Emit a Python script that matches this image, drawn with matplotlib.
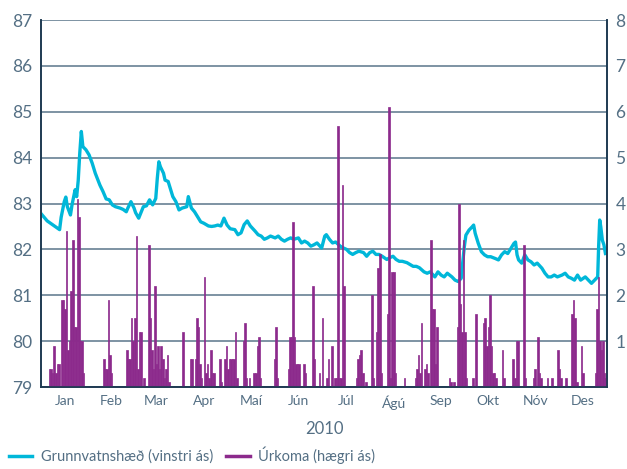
import matplotlib
matplotlib.use("Agg")
import matplotlib.pyplot as plt
from matplotlib.lines import Line2D

plt.rcParams['font.family'] = ['Lato', 'DejaVu Sans']

# Grunnvatnshæð (vinstri ás), day-of-year -> m
gw_days = [0, 4, 9, 12, 13, 15, 16, 17, 19, 20, 22, 23, 24, 25, 26, 27, 29, 31, 33, 35,
           38, 40, 42, 44, 46, 48, 51, 53, 55, 56, 58, 60, 61, 63, 66, 68, 70, 72, 74, 75,
           76, 77, 79, 80, 82, 83, 85, 87, 89, 91, 94, 95, 97, 99, 101, 103, 105, 108, 110, 112,
           114, 116, 118, 120, 122, 125, 127, 129, 131, 133, 135, 138, 140, 142, 144, 146, 148, 151, 153, 155,
           157, 159, 161, 163, 166, 168, 170, 172, 174, 176, 178, 181, 183, 184, 186, 188, 190, 193, 195, 197,
           199, 201, 203, 205, 208, 210, 212, 214, 216, 218, 220, 223, 225, 227, 229, 231, 233, 236, 238, 240,
           242, 244, 247, 249, 251, 254, 256, 258, 260, 262, 265, 267, 269, 271, 272, 273, 274, 276, 278, 279,
           280, 282, 284, 286, 288, 290, 293, 295, 297, 299, 301, 303, 305, 306, 307, 308, 310, 312, 314, 316,
           318, 320, 323, 325, 327, 329, 331, 333, 336, 338, 340, 342, 344, 346, 348, 351, 353, 355, 357, 359,
           359.6, 360.3, 361, 362, 363, 364]
gw_level = [82.78, 82.62, 82.5, 82.43, 82.7, 83.04, 83.14, 82.93, 82.75, 82.97, 83.3, 83.15, 83.5, 84.1, 84.57, 84.24, 84.17, 84.06, 83.88, 83.66,
            83.4, 83.26, 83.1, 83.08, 82.97, 82.93, 82.9, 82.87, 82.82, 82.9, 83.04, 82.9, 82.8, 82.68, 82.93, 82.95, 83.08, 82.97, 83.11, 83.55,
            83.91, 83.8, 83.66, 83.51, 83.48, 83.37, 83.15, 83.04, 82.86, 82.9, 82.93, 83.15, 82.9, 82.82, 82.71, 82.6, 82.57, 82.51, 82.5, 82.51,
            82.53, 82.51, 82.68, 82.53, 82.45, 82.43, 82.32, 82.36, 82.54, 82.62, 82.51, 82.4, 82.32, 82.29, 82.22, 82.25, 82.29, 82.25, 82.29, 82.22,
            82.18, 82.22, 82.25, 82.22, 82.25, 82.14, 82.18, 82.14, 82.07, 82.1, 82.14, 82.03, 82.29, 82.32, 82.22, 82.14, 82.16, 82.07, 82.03, 82.0,
            81.93, 81.89, 81.93, 81.96, 81.93, 81.85, 81.93, 81.96, 81.89, 81.89, 81.85, 81.78, 81.82, 81.85, 81.78, 81.74, 81.74, 81.71, 81.67, 81.63,
            81.63, 81.6, 81.51, 81.48, 81.51, 81.4, 81.51, 81.44, 81.4, 81.48, 81.4, 81.33, 81.3, 81.37, 81.73, 82.06, 82.31, 82.42, 82.49, 82.53,
            82.35, 82.13, 81.95, 81.88, 81.84, 81.84, 81.8, 81.77, 81.88, 81.95, 81.91, 82.02, 82.13, 82.16, 81.88, 81.77, 81.7, 81.88, 81.77, 81.73,
            81.66, 81.7, 81.59, 81.48, 81.4, 81.4, 81.44, 81.4, 81.44, 81.48, 81.4, 81.37, 81.33, 81.44, 81.33, 81.4, 81.33, 81.26, 81.33, 81.4,
            82.06, 82.64, 82.49, 82.2, 82.1, 81.91]

# Úrkoma (hægri ás), day-of-year -> value
rain_days = [5, 6, 7, 8, 9, 10, 11, 13, 14, 15, 16, 17, 18, 19, 20, 21, 22, 23, 24, 25, 26, 27,
             40, 41, 42, 43, 44, 45,
             55, 56, 57, 58, 59, 60, 61, 62, 63, 64, 66, 69, 70, 71, 72, 73, 74, 75, 76, 77, 78, 79, 80, 81, 82,
             91, 96, 97, 99, 100, 101, 102, 103, 105, 106, 107, 108, 109, 110, 111, 115, 116, 118, 119, 120,
             121, 122, 123, 124, 125, 126, 130, 131, 132, 134, 137, 138, 139, 140, 141,
             150, 151, 152, 159, 160, 161, 162, 163, 164, 165, 166, 169, 170, 175, 176, 179, 181,
             184, 185, 187, 189, 190, 191, 192, 193, 194, 195, 203, 204, 205, 206, 207, 209, 213, 214, 216, 217, 218, 219,
             223, 224, 225, 226, 227, 228, 234, 241, 242, 243, 244, 245,
             247, 248, 249, 251, 252, 253, 254, 255, 263, 264, 266, 268, 269, 270, 271, 272, 273, 274, 278, 280,
             285, 286, 287, 288, 289, 290, 291, 292, 293, 297, 298, 304, 305, 306, 307, 311, 312, 317, 318, 320, 321, 322,
             326, 329, 333, 334, 335, 338, 342, 343, 344, 345, 348, 349, 357, 358, 359, 360, 361, 362, 363, 364]
rain_vals = [0.4, 0.4, 0.3, 0.9, 0.3, 0.5, 0.5, 1.9, 1.9, 1.7, 3.4, 0.8, 1.0, 2.1, 3.2, 1.3, 1.3, 4.1, 3.7, 1.0, 1.0, 0.3,
             0.6, 0.4, 0.4, 1.9, 0.7, 0.3,
             0.8, 0.6, 0.6, 1.5, 1.0, 1.5, 3.3, 0.4, 1.2, 1.2, 0.2, 3.1, 1.5, 0.8, 0.4, 2.2, 0.5, 0.9, 0.4, 0.9, 0.6, 0.2, 0.4, 0.7, 0.1,
             1.2, 0.6, 0.6, 0.6, 1.5, 1.3, 0.5, 0.2, 2.4, 0.3, 0.5, 0.2, 0.8, 0.3, 0.3, 0.6, 0.1, 0.6, 0.9, 0.4,
             0.6, 0.6, 0.6, 0.6, 1.2, 0.2, 1.0, 1.4, 0.2, 0.2, 0.3, 0.3, 0.9, 1.1, 0.2,
             0.6, 1.3, 0.2, 0.4, 1.1, 1.1, 3.6, 1.1, 0.5, 0.5, 0.5, 0.5, 0.3, 2.2, 0.6, 0.3, 1.5,
             0.2, 0.6, 0.9, 0.2, 0.2, 5.7, 0.2, 0.2, 4.4, 2.2, 0.2, 0.6, 0.7, 0.8, 0.3, 0.1, 2.0, 0.2, 1.2, 2.6, 2.9, 0.3,
             1.6, 6.1, 0.2, 2.5, 2.5, 0.3, 0.2, 0.2, 0.4, 0.7, 0.3, 1.4,
             0.4, 0.5, 0.3, 3.2, 1.7, 1.7, 0.5, 1.3, 0.2, 0.1, 0.1, 1.3, 4.0, 1.8, 1.2, 3.2, 1.2, 0.2, 0.2, 1.6,
             1.4, 1.5, 0.9, 1.3, 2.0, 0.9, 0.3, 0.3, 0.2, 0.8, 0.2, 0.6, 0.2, 1.0, 1.0, 3.1, 0.2, 0.2, 0.4, 1.1, 0.3, 0.2,
             0.2, 0.2, 0.8, 0.4, 0.2, 0.2, 1.6, 1.9, 1.5, 0.1, 0.9, 0.3, 0.3, 1.7, 2.4, 1.0, 0.8, 1.0, 0.3, 0.2]

months = ['Jan', 'Feb', 'Mar', 'Apr', 'Maí', 'Jún', 'Júl', 'Ágú', 'Sep', 'Okt', 'Nóv', 'Des']
month_len = [31, 28, 31, 30, 31, 30, 31, 31, 30, 31, 30, 31]

cyan = '#00b7d9'
purple = '#8c2a8c'
text_col = '#546f84'
grid_col = '#7d93a3'
spine_col = '#1e3a52'

fig = plt.figure(figsize=(6.27, 4.69), dpi=100)
ax = fig.add_axes([41 / 627, 1 - 387 / 469, 566 / 627, 367 / 469])
ax2 = ax.twinx()

ax.plot(gw_days, gw_level, color=cyan, lw=2.4, solid_joinstyle='round')
ax2.bar(rain_days, rain_vals, width=1.0, color=purple, edgecolor=purple,
        linewidth=0.5, align='edge')

ax.set_xlim(0, 365)
ax.set_ylim(79, 87)
ax2.set_ylim(0, 8)
ax.set_yticks(range(79, 88))
ax2.set_yticks(range(1, 9))

starts = [sum(month_len[:i]) for i in range(12)]
centers = [s + l / 2 for s, l in zip(starts, month_len)]
ax.set_xticks(centers)
ax.set_xticklabels(months)

ax.grid(axis='y', color=grid_col, lw=1.4)
ax.set_axisbelow(True)
for a in (ax, ax2):
    a.tick_params(length=0, colors=text_col)
    for s in a.spines.values():
        s.set_color(spine_col)
        s.set_linewidth(1.2)
    a.spines['top'].set_visible(False)
ax.tick_params(axis='y', labelsize=12.5, pad=6)
ax2.tick_params(axis='y', labelsize=12.5, pad=6)
ax.tick_params(axis='x', labelsize=10, pad=6)

ax.set_xlabel('2010', fontsize=12, color=text_col, labelpad=8)

handles = [Line2D([], [], color=cyan, lw=2.5),
           Line2D([], [], color=purple, lw=2.5)]
leg = fig.legend(handles, ['Grunnvatnshæð (vinstri ás)', 'Úrkoma (hægri ás)'],
                 loc='lower left', bbox_to_anchor=(0.0, -0.008), ncol=2, frameon=False,
                 fontsize=10.5, handlelength=1.6, handletextpad=0.6, columnspacing=0.9,
                 borderaxespad=0.2)
for t in leg.get_texts():
    t.set_color(text_col)

fig.savefig('out.png', dpi=100)
